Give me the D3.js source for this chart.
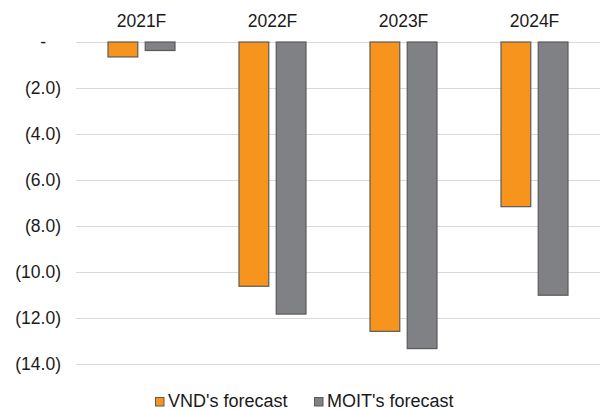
<!DOCTYPE html>
<html>
<head>
<meta charset="utf-8">
<script src="https://cdn.jsdelivr.net/npm/d3@7"></script>
<style>
  html, body { margin: 0; padding: 0; background: #fff; }
  svg { display: block; }
  text { font-family: "Liberation Sans", Arial, sans-serif; fill: #1a1a1a; }
</style>
</head>
<body>
<svg id="chart" width="607" height="410"></svg>
<script>
// Forecast values per year, in the chart's units (negative = deficit)
const years = ["2021F", "2022F", "2023F", "2024F"];
const vndForecast = [-0.65, -10.62, -12.58, -7.16];
const moitForecast = [-0.37, -11.83, -13.33, -11.01];
const seriesNames = ["VND's forecast", "MOIT's forecast"];
const seriesColors = ["#F7941E", "#808184"];
const yTicks = [0, -2, -4, -6, -8, -10, -12, -14];

const svg = d3.select("#chart");
const margin = { top: 42, right: 7, bottom: 46, left: 76 };
const width = 607 - margin.left - margin.right;
const height = 410 - margin.top - margin.bottom;

const x = d3.scaleBand().domain(years).range([0, width]).paddingInner(0).paddingOuter(0);
const inner = d3.scaleBand().domain(seriesNames).range([32, x.bandwidth() - 32]).paddingInner(0.2);
const y = d3.scaleLinear().domain([0, -14]).range([0, height]);

const g = svg.append("g").attr("transform", `translate(${margin.left},${margin.top})`);

// Horizontal gridlines
g.append("g")
  .selectAll("line")
  .data(yTicks)
  .join("line")
  .attr("x1", 0)
  .attr("x2", width)
  .attr("y1", d => Math.round(y(d)) + 0.5)
  .attr("y2", d => Math.round(y(d)) + 0.5)
  .attr("stroke", "#d9d9d9")
  .attr("stroke-width", 1);

// Y axis labels: accounting style, zero shown as a dash
const fmt = d => d === 0 ? "-" : `(${Math.abs(d).toFixed(1)})`;
const yAxis = d3.axisLeft(y).tickValues(yTicks).tickFormat(fmt).tickSize(0).tickPadding(15);
const yg = g.append("g").call(yAxis);
yg.select(".domain").remove();
yg.selectAll("text")
  .attr("font-size", "17.5px")
  .attr("font-family", "Liberation Sans, Arial, sans-serif")
  .attr("fill", "#1a1a1a")
  .attr("x", d => d === 0 ? -30 : -15);

// Category labels along the top
const xAxis = d3.axisTop(x).tickSize(0).tickPadding(0);
const xg = g.append("g").call(xAxis);
xg.select(".domain").remove();
xg.selectAll("text")
  .attr("font-size", "17.5px")
  .attr("font-family", "Liberation Sans, Arial, sans-serif")
  .attr("fill", "#1a1a1a")
  .attr("dy", 0)
  .attr("y", -15);

// Bars
const rows = years.map((yr, i) => ({ year: yr, values: [vndForecast[i], moitForecast[i]] }));
const groups = g.append("g")
  .selectAll("g")
  .data(rows)
  .join("g")
  .attr("transform", d => `translate(${x(d.year)},0)`);

groups.selectAll("rect")
  .data(d => d.values.map((v, j) => ({ name: seriesNames[j], value: v, color: seriesColors[j] })))
  .join("rect")
  .attr("x", d => inner(d.name))
  .attr("y", d => y(0))
  .attr("width", inner.bandwidth())
  .attr("height", d => y(d.value) - y(0))
  .attr("fill", d => d.color)
  .attr("stroke", "#5a5a5a")
  .attr("stroke-width", 1.2);

// Legend
const legend = svg.append("g").attr("transform", "translate(155,397)");
const legendOffsets = [0, 159];
seriesNames.forEach((name, i) => {
  const item = legend.append("g").attr("transform", `translate(${legendOffsets[i]},0)`);
  item.append("rect")
    .attr("x", 0.5).attr("y", 0.5)
    .attr("width", 8.5).attr("height", 8.5)
    .attr("fill", seriesColors[i])
    .attr("stroke", "#5a5a5a")
    .attr("stroke-width", 1);
  item.append("text")
    .attr("x", 13)
    .attr("y", 9.5)
    .attr("font-size", "18px")
    .text(name);
});
</script>
</body>
</html>
